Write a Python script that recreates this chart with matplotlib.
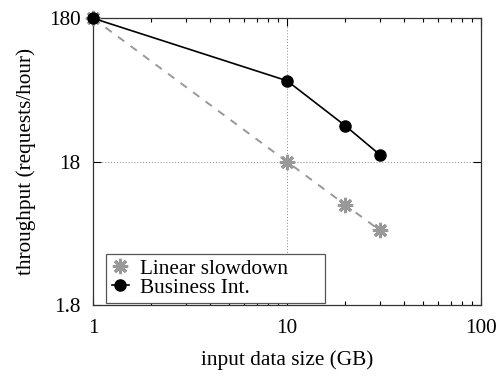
import numpy as np
from matplotlib import pyplot as plt
from matplotlib.lines import Line2D
from matplotlib.ticker import FixedLocator, NullLocator, NullFormatter

plt.rcParams['font.family'] = ['Liberation Serif', 'DejaVu Serif']

size_gb = [1, 10, 20, 30]
linear_slowdown = [180, 18, 9, 6]
business_int = [180, 66, 32, 20.2]
yticks = [1.8, 18, 180]
ytick_labels = ['1.8', '18', '180']
xticks = [1, 10, 100]
xtick_labels = ['1', '10', '100']

fs = 15.3
fig = plt.figure(figsize=(5, 3.8), dpi=100)
ax = fig.add_axes([0.186, 0.197, 0.776, 0.755])

gray = '#999999'
ax.plot(size_gb, linear_slowdown, color=gray, linestyle=(0, (4, 4)), linewidth=1.4,
        marker=(8, 2, 0), markersize=11, markeredgewidth=2.2, markeredgecolor=gray,
        zorder=3, clip_on=False)
ax.plot(size_gb, business_int, color='k', linewidth=1.2, marker='o', markersize=8,
        zorder=4, clip_on=False)

ax.set_xscale('log')
ax.set_yscale('log')
ax.set_xlim(1, 100)
ax.set_ylim(1.8, 180)

ax.xaxis.set_major_locator(FixedLocator(xticks))
ax.set_xticklabels(xtick_labels)
ax.yaxis.set_major_locator(FixedLocator(yticks))
ax.set_yticklabels(ytick_labels)
ax.yaxis.set_minor_locator(NullLocator())
ax.yaxis.set_minor_formatter(NullFormatter())
ax.xaxis.set_minor_formatter(NullFormatter())

ax.tick_params(which='both', direction='in', top=True, right=True, labelsize=fs)
ax.tick_params(axis='x', pad=10)
ax.tick_params(axis='y', pad=9)
ax.tick_params(which='major', length=6, width=0.8)
ax.tick_params(which='minor', length=3, width=0.8)
ax.grid(True, which='major', linestyle=(0, (1, 2)), color='#888888', linewidth=0.7)
for s in ax.spines.values():
    s.set_linewidth(0.9)
    s.set_color('#333333')

ax.set_xlabel('input data size (GB)', fontsize=fs, labelpad=9)
ax.set_ylabel('throughput (requests/hour)', fontsize=fs, labelpad=9)

handles = [
    Line2D([], [], color=gray, linestyle='none', marker=(8, 2, 0), markersize=11,
           markeredgewidth=2.2, markeredgecolor=gray),
    Line2D([], [], color='k', linewidth=1.2, marker='o', markersize=8),
]
leg = ax.legend(handles, ['Linear slowdown', 'Business Int.'], loc='lower left',
                mode='expand', bbox_to_anchor=(0.034, 0.008, 0.564, 0.2),
                borderaxespad=0, fontsize=fs, fancybox=False, framealpha=1,
                edgecolor='#555555', borderpad=0.25, handlelength=0.8,
                handletextpad=0.55, labelspacing=-0.05)
leg.get_frame().set_linewidth(0.9)

fig.savefig('out.png', dpi=100)
plt.close('all')
